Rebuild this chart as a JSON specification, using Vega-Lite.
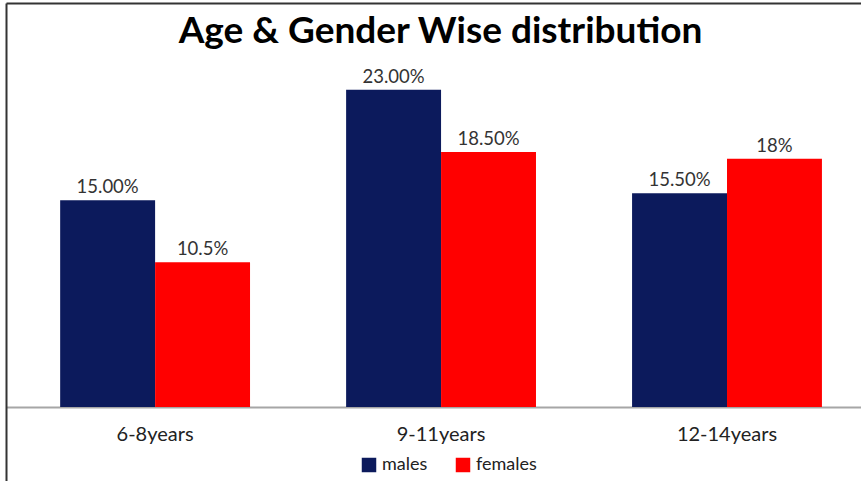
{
  "$schema": "https://vega.github.io/schema/vega-lite/v6.json",
  "autosize": {"type": "none"},
  "width": 855,
  "height": 478,
  "padding": {"left": 6, "top": 3, "right": 0, "bottom": 0},
  "background": "#ffffff",
  "title": {
    "text": "Age & Gender Wise distribution",
    "anchor": "middle",
    "frame": "group",
    "offset": -48,
    "dx": 7,
    "font": "Lato",
    "fontSize": 37,
    "fontWeight": "bold",
    "color": "#000000"
  },
  "data": {
    "values": [
      {"age": "6-8years", "gender": "males", "pct": 15.0, "label": "15.00%"},
      {"age": "6-8years", "gender": "females", "pct": 10.5, "label": "10.5%"},
      {"age": "9-11years", "gender": "males", "pct": 23.0, "label": "23.00%"},
      {"age": "9-11years", "gender": "females", "pct": 18.5, "label": "18.50%"},
      {"age": "12-14years", "gender": "males", "pct": 15.5, "label": "15.50%"},
      {"age": "12-14years", "gender": "females", "pct": 18.0, "label": "18%"}
    ]
  },
  "encoding": {
    "xOffset": {
      "field": "gender",
      "type": "nominal",
      "sort": ["males", "females"],
      "scale": {"paddingInner": 0, "paddingOuter": 0}
    },
    "y": {
      "field": "pct",
      "type": "quantitative",
      "scale": {"domain": [-5.37, 29.3], "nice": false, "zero": false},
      "axis": {
        "title": null,
        "labels": false,
        "ticks": false,
        "grid": false,
        "domainColor": "#333333",
        "domainWidth": 2
      }
    }
  },
  "layer": [
    {
      "mark": {"type": "bar"},
      "encoding": {
        "x": {
          "field": "age",
          "type": "nominal",
          "sort": ["6-8years", "9-11years", "12-14years"],
          "scale": {"paddingInner": 0.336, "paddingOuter": 0.163, "align": 0.581},
          "axis": {
            "orient": "bottom",
            "offset": -74,
            "title": null,
            "ticks": false,
            "labelAngle": 0,
            "labelPadding": 17,
            "labelFont": "Lato",
            "labelFontSize": 20,
            "labelColor": "#222222",
            "domainColor": "#a6a6a6",
            "domainWidth": 2
          }
        },
        "y2": {"datum": 0},
        "color": {
          "field": "gender",
          "type": "nominal",
          "sort": ["males", "females"],
          "scale": {"domain": ["males", "females"], "range": ["#0c1a5c", "#ff0000"]},
          "legend": {
            "title": null,
            "orient": "none",
            "direction": "horizontal",
            "legendX": 354,
            "legendY": 453,
            "symbolType": "square",
            "symbolSize": 210,
            "symbolStrokeWidth": 0,
            "labelFont": "Lato",
            "labelFontSize": 18,
            "labelColor": "#222222",
            "labelOffset": 4,
            "columnPadding": 26
          }
        }
      }
    },
    {
      "mark": {
        "type": "text",
        "baseline": "bottom",
        "dy": -3,
        "font": "Lato",
        "fontSize": 18.5,
        "color": "#333333"
      },
      "encoding": {
        "x": {
          "field": "age",
          "type": "nominal",
          "sort": ["6-8years", "9-11years", "12-14years"],
          "axis": {
            "orient": "top",
            "title": null,
            "labels": false,
            "ticks": false,
            "domainColor": "#333333",
            "domainWidth": 2
          }
        },
        "text": {"field": "label"}
      }
    }
  ],
  "resolve": {"axis": {"x": "independent"}},
  "config": {
    "view": {"stroke": null}
  }
}
